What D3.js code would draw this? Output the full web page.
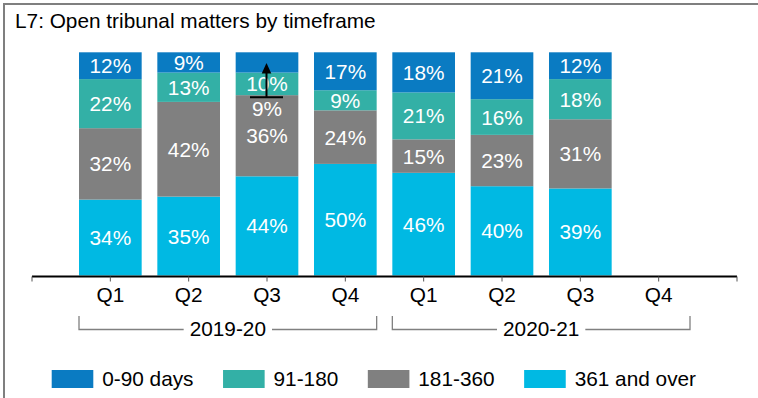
<!DOCTYPE html>
<html>
<head>
<meta charset="utf-8">
<script src="https://cdn.jsdelivr.net/npm/d3@7/dist/d3.min.js"></script>
<style>
  html, body { margin: 0; padding: 0; background: #fff; }
  svg { display: block; font-family: "Liberation Sans", Arial, sans-serif; }
</style>
</head>
<body>
<svg id="chart" width="758" height="398"></svg>
<script>
// Open tribunal matters, share by age band, per quarter
const quarters = ["Q1", "Q2", "Q3", "Q4", "Q1", "Q2", "Q3", "Q4"];
const years = ["2019-20", "2019-20", "2019-20", "2019-20", "2020-21", "2020-21", "2020-21", "2020-21"];
const bands = ["0-90 days", "91-180", "181-360", "361 and over"];
const days0to90    = [12, 9, 9, 17, 18, 21, 12, null];
const days91to180  = [22, 13, 10, 9, 21, 16, 18, null];
const days181to360 = [32, 42, 36, 24, 15, 23, 31, null];
const days361plus  = [34, 35, 44, 50, 46, 40, 39, null];
const yearGroups = ["2019-20", "2020-21"];
const colours = ["#0a7bc2", "#33b0a6", "#808080", "#00b9e3"];

// The one thin segment whose label sits below its neighbour, with a pointer up to it
const callout = { index: 2, band: "0-90 days" };

const rows = quarters.map((q, i) => ({
  id: i,
  quarter: q,
  year: years[i],
  "0-90 days": days0to90[i],
  "91-180": days91to180[i],
  "181-360": days181to360[i],
  "361 and over": days361plus[i]
}));

const svg = d3.select("#chart");
const fs = 20.8;

// Frame around the panel
svg.append("rect")
  .attr("x", 4).attr("y", 4)
  .attr("width", 800).attr("height", 500)
  .attr("fill", "none").attr("stroke", "#7f7f7f").attr("stroke-width", 2);

svg.append("text")
  .attr("x", 15).attr("y", 27.5)
  .attr("font-size", fs).attr("fill", "#000")
  .text("L7: Open tribunal matters by timeframe");

const axisLeft = 32, axisRight = 737;
const step = (axisRight - axisLeft) / (rows.length + 1);
const x = d3.scaleBand()
  .domain(rows.map(d => d.id))
  .range([axisLeft + step / 2, axisRight - step / 2])
  .paddingInner(0.2).paddingOuter(0.1);

const y = d3.scaleLinear().domain([0, 1]).range([275.5, 52.3]);

// Stack bottom-up: oldest matters at the base
const stackOrder = bands.slice().reverse();
const filled = rows.filter(r => r["361 and over"] != null);
const stack = d3.stack().keys(stackOrder).offset(d3.stackOffsetExpand);
const series = stack(filled);

const g = svg.append("g");
series.forEach(s => {
  const colour = colours[bands.indexOf(s.key)];
  g.selectAll(null).data(s).join("rect")
    .attr("x", d => x(d.data.id))
    .attr("width", x.bandwidth())
    .attr("y", d => y(d[1]))
    .attr("height", d => y(d[0]) - y(d[1]))
    .attr("fill", colour);
});

// Value labels
series.forEach(s => {
  g.selectAll(null).data(s).join("text")
    .attr("x", d => x(d.data.id) + x.bandwidth() / 2)
    .attr("y", d => {
      if (d.data.id === callout.index && s.key === callout.band) {
        // sit just under the boundary of the segment below
        const below = series[stackOrder.indexOf(s.key) - 1].find(e => e.data.id === d.data.id);
        return y(below[0]) + 13;
      }
      return (y(d[0]) + y(d[1])) / 2;
    })
    .attr("dy", "0.36em")
    .attr("text-anchor", "middle")
    .attr("font-size", fs)
    .attr("fill", "#fff")
    .text(d => d.data[s.key] + "%");
});

// Pointer from the displaced label to its segment
{
  const top = series[stackOrder.indexOf(callout.band)].find(e => e.data.id === callout.index);
  const below = series[stackOrder.indexOf(callout.band) - 1].find(e => e.data.id === callout.index);
  const cx = x(callout.index) + x.bandwidth() / 2 - 0.5;
  const yBase = y(below[0]) + 2;
  const yTip = (y(top[0]) + y(top[1])) / 2 + 0.5;
  g.append("line")
    .attr("x1", cx - 16.5).attr("x2", cx + 16.5)
    .attr("y1", yBase).attr("y2", yBase)
    .attr("stroke", "#000").attr("stroke-width", 2);
  g.append("line")
    .attr("x1", cx).attr("x2", cx)
    .attr("y1", yBase).attr("y2", yTip + 8)
    .attr("stroke", "#000").attr("stroke-width", 2);
  g.append("path")
    .attr("d", `M${cx},${yTip} L${cx - 4.8},${yTip + 10.5} L${cx + 4.8},${yTip + 10.5} Z`)
    .attr("fill", "#000");
}

// Category axis
const axisY = 276.5;
svg.append("line")
  .attr("x1", axisLeft).attr("x2", axisRight)
  .attr("y1", axisY).attr("y2", axisY)
  .attr("stroke", "#000").attr("stroke-width", 2);

const tickXs = [axisLeft, ...rows.map(r => x(r.id) + x.bandwidth() / 2), axisRight];
svg.selectAll(null).data(tickXs).join("line")
  .attr("x1", d => d).attr("x2", d => d)
  .attr("y1", axisY).attr("y2", axisY + 5)
  .attr("stroke", "#555").attr("stroke-width", 1);

svg.selectAll(null).data(rows).join("text")
  .attr("x", d => x(d.id) + x.bandwidth() / 2)
  .attr("y", 302)
  .attr("text-anchor", "middle")
  .attr("font-size", fs).attr("fill", "#000")
  .text(d => d.quarter);

// Year brackets
yearGroups.forEach(yr => {
  const ids = rows.filter(r => r.year === yr).map(r => r.id);
  const x0 = x(ids[0]);
  const x1 = x(ids[ids.length - 1]) + x.bandwidth();
  const mid = (x0 + x1) / 2;
  const lineY = 329.5;
  const label = svg.append("text")
    .attr("x", mid).attr("y", 336)
    .attr("text-anchor", "middle")
    .attr("font-size", fs).attr("fill", "#000")
    .text(yr);
  const half = label.node().getComputedTextLength() / 2 + 6;
  const bracket = d3.path();
  bracket.moveTo(x0, 316); bracket.lineTo(x0, lineY); bracket.lineTo(mid - half, lineY);
  bracket.moveTo(mid + half, lineY); bracket.lineTo(x1, lineY); bracket.lineTo(x1, 316);
  svg.append("path")
    .attr("d", bracket.toString())
    .attr("fill", "none").attr("stroke", "#808080").attr("stroke-width", 1.3);
});

// Legend
const legend = svg.append("g");
let lx = 51.7;
bands.forEach((b, i) => {
  legend.append("rect")
    .attr("x", lx).attr("y", 370)
    .attr("width", 41.6).attr("height", 18)
    .attr("fill", colours[i]);
  const t = legend.append("text")
    .attr("x", lx + 50.5).attr("y", 379)
    .attr("dy", "0.36em")
    .attr("font-size", fs).attr("fill", "#000")
    .text(b);
  lx += 50.5 + t.node().getComputedTextLength() + 29.5;
});
</script>
</body>
</html>
